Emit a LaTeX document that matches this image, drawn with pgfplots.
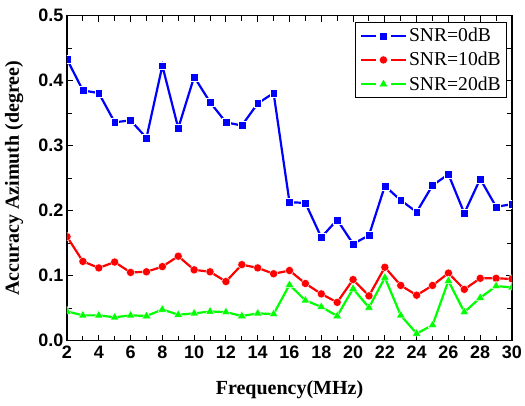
\documentclass[border=0pt]{standalone}
\usepackage{fontspec}
\setmainfont{Liberation Serif}
\newfontfamily\tickfont{Liberation Sans}
\usepackage{pgfplots}
\pgfplotsset{compat=1.18}
\definecolor{cblue}{RGB}{0,0,255}
\definecolor{cred}{RGB}{255,0,0}
\definecolor{cgreen}{RGB}{0,255,0}
\begin{document}
\begin{tikzpicture}
\begin{axis}[
  name=ax,
  at={(0pt,0pt)}, anchor=south west,
  scale only axis,
  width=445pt, height=325pt,
  xmin=2, xmax=30, ymin=0, ymax=0.5,
  xtick={2,4,...,30},
  minor xtick={3,5,...,29},
  ytick={0,0.1,...,0.5},
  minor ytick={0.05,0.15,...,0.45},
  tick align=inside,
  major tick length=6pt,
  minor tick length=5pt,
  axis line style={line width=1.2pt},
  every tick/.style={line width=1pt, black},
  clip marker paths=true,
  tick label style={font=\tickfont\bfseries\fontsize{18}{21}\selectfont},
  xticklabel={\tickfont\bfseries\fontsize{18}{21}\selectfont\pgfmathprintnumber[assume math mode=true,fixed,precision=0]{\tick}},
  yticklabel={\tickfont\bfseries\fontsize{18}{21}\selectfont\pgfmathprintnumber[assume math mode=true,fixed,fixed zerofill,precision=1]{\tick}},
  xticklabel style={yshift=-2pt},
  xlabel={\bfseries Frequency(MHz)},
  ylabel={\bfseries Accuracy Azimuth (degree)},
  label style={font=\fontsize{20}{24}\selectfont},
  xlabel style={at={(axis description cs:0.5,-0.152)}, anchor=center},
  ylabel style={at={(axis description cs:-0.119,0.5)}, anchor=center},
  legend style={at={(0.989,0.981)}, anchor=north east, draw=black, line width=0.8pt,
    font=\fontsize{19.6}{22}\selectfont, row sep=5pt, inner sep=4pt,
    cells={anchor=west}},
  legend image code/.code={
    \draw[#1,mark=none] (0pt,0pt) -- (15pt,0pt);
    \draw[#1,mark=none] (30pt,0pt) -- (45pt,0pt);
    \draw[#1] plot coordinates {(22.5pt,0pt)};
  },
]
\addplot[cblue, line width=2.2pt, mark=square*, mark size=3.9pt,
  mark options={fill=cblue, draw=white, line width=0.4pt}] coordinates {
(2,0.433)(3,0.385)(4,0.381)(5,0.336)(6,0.339)(7,0.312)(8,0.423)(9,0.327)
(10,0.406)(11,0.367)(12,0.336)(13,0.331)(14,0.365)(15,0.381)(16,0.213)
(17,0.212)(18,0.159)(19,0.186)(20,0.149)(21,0.162)(22,0.238)(23,0.216)
(24,0.198)(25,0.239)(26,0.256)(27,0.196)(28,0.249)(29,0.206)(30,0.210)};
\addlegendentry{SNR=0dB}
\addplot[cred, line width=2.2pt, mark=*, mark size=4.1pt,
  mark options={fill=cred, draw=white, line width=0.4pt}] coordinates {
(2,0.160)(3,0.122)(4,0.112)(5,0.121)(6,0.105)(7,0.106)(8,0.114)(9,0.130)
(10,0.109)(11,0.106)(12,0.091)(13,0.117)(14,0.112)(15,0.103)(16,0.108)
(17,0.088)(18,0.072)(19,0.059)(20,0.094)(21,0.069)(22,0.113)(23,0.085)
(24,0.070)(25,0.085)(26,0.104)(27,0.079)(28,0.096)(29,0.096)(30,0.095)};
\addlegendentry{SNR=10dB}
\addplot[cgreen, line width=2.2pt, mark=triangle*, mark size=5pt,
  mark options={fill=cgreen, draw=white, line width=0.4pt}] coordinates {
(2,0.045)(3,0.039)(4,0.039)(5,0.036)(6,0.039)(7,0.038)(8,0.048)(9,0.040)
(10,0.042)(11,0.045)(12,0.044)(13,0.038)(14,0.042)(15,0.041)(16,0.086)
(17,0.062)(18,0.052)(19,0.038)(20,0.080)(21,0.051)(22,0.097)(23,0.039)
(24,0.011)(25,0.024)(26,0.092)(27,0.044)(28,0.066)(29,0.084)(30,0.082)};
\addlegendentry{SNR=20dB}
\end{axis}
\pgfresetboundingbox
\path (-67pt,-64.3pt) rectangle (458pt,340.7pt);
\end{tikzpicture}
\end{document}
